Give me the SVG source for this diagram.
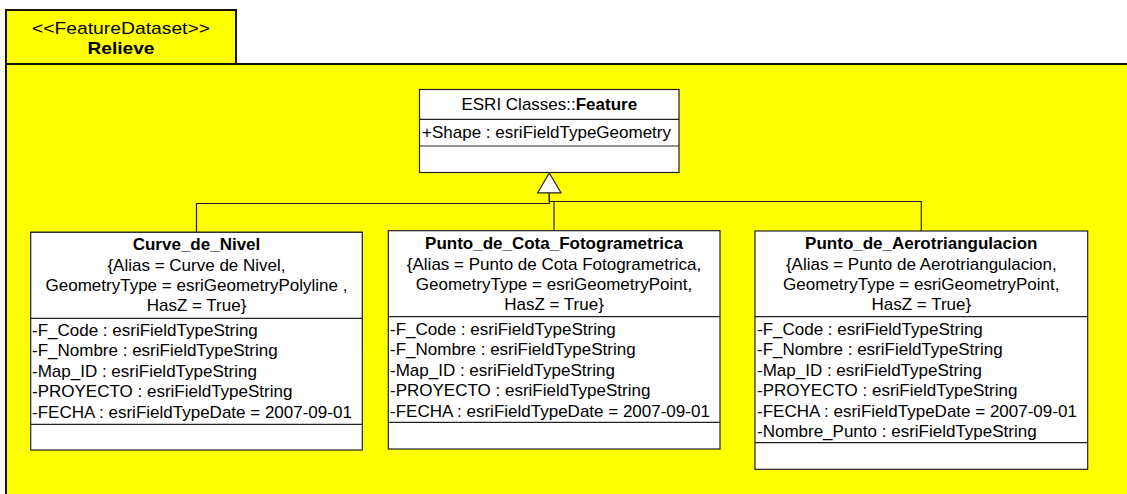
<svg xmlns="http://www.w3.org/2000/svg" width="1127" height="494" viewBox="0 0 1127 494">
  <style>
    text { font-family: "Liberation Sans", Arial, sans-serif; font-size: 17px; fill: #000; }
    .b { font-weight: bold; }
    .c { text-anchor: middle; }
    .box { fill: #fff; stroke: #222; stroke-width: 1.2; }
    .sep { stroke: #222; stroke-width: 1.2; fill: none; }
    .pkg { fill: #ffff00; stroke: #111; stroke-width: 2; }
    .gen { fill: none; stroke: #222; stroke-width: 1.2; }
    .tri { fill: #fff; stroke: #222; stroke-width: 1.2; }
  </style>

  <!-- package: Relieve -->
  <g id="package">
    <rect class="pkg" x="6" y="64" width="1130" height="440"/>
    <rect class="pkg" x="6" y="10" width="230" height="54"/>
    <text class="c" x="121" y="34" textLength="178" lengthAdjust="spacingAndGlyphs">&lt;&lt;FeatureDataset&gt;&gt;</text>
    <text class="c b" x="121" y="54" textLength="67" lengthAdjust="spacingAndGlyphs">Relieve</text>
  </g>

  <!-- generalization connectors -->
  <g id="connectors">
    <path class="gen" d="M549.3,193 V203.5 H196.5 V232"/>
    <path class="gen" d="M549.3,193 V201.5 H921.3 V231"/>
    <path class="gen" d="M554,201.5 V230.7"/>
    <polygon class="tri" points="549.3,173 561,192.8 537.6,192.8"/>
  </g>

  <!-- ESRI Classes::Feature -->
  <g id="feature">
    <rect class="box" x="419.5" y="89.5" width="259.5" height="83"/>
    <line class="sep" x1="419.5" y1="119.3" x2="679" y2="119.3"/>
    <line class="sep" x1="419.5" y1="146" x2="679" y2="146"/>
    <text class="c" x="549.3" y="110">ESRI Classes::<tspan class="b">Feature</tspan></text>
    <text x="422" y="137.5">+Shape : esriFieldTypeGeometry</text>
  </g>

  <!-- Curve_de_Nivel -->
  <g id="curve-de-nivel">
    <rect class="box" x="30.7" y="232.3" width="331.6" height="117.7"/>
    <rect class="box" x="30.7" y="232.3" width="331.6" height="217.7"/>
    <line class="sep" x1="30.7" y1="318.3" x2="362.3" y2="318.3"/>
    <line class="sep" x1="30.7" y1="424.3" x2="362.3" y2="424.3"/>
    <text class="c b" x="196.5" y="250">Curve_de_Nivel</text>
    <text class="c" x="196.5" y="271">{Alias = Curve de Nivel,</text>
    <text class="c" x="196.5" y="291">GeometryType = esriGeometryPolyline ,</text>
    <text class="c" x="196.5" y="311">HasZ = True}</text>
    <text x="32" y="336">-F_Code : esriFieldTypeString</text>
    <text x="32" y="356.4">-F_Nombre : esriFieldTypeString</text>
    <text x="32" y="376.8">-Map_ID : esriFieldTypeString</text>
    <text x="32" y="397.2">-PROYECTO : esriFieldTypeString</text>
    <text x="32" y="417.6">-FECHA : esriFieldTypeDate = 2007-09-01</text>
  </g>

  <!-- Punto_de_Cota_Fotogrametrica -->
  <g id="punto-de-cota">
    <rect class="box" x="388.3" y="230.7" width="331.7" height="218.3"/>
    <line class="sep" x1="388.3" y1="316.7" x2="720" y2="316.7"/>
    <line class="sep" x1="388.3" y1="422.3" x2="720" y2="422.3"/>
    <text class="c b" x="554" y="248.5">Punto_de_Cota_Fotogrametrica</text>
    <text class="c" x="554" y="269.5">{Alias = Punto de Cota Fotogrametrica,</text>
    <text class="c" x="554" y="289.5">GeometryType = esriGeometryPoint,</text>
    <text class="c" x="554" y="309.5">HasZ = True}</text>
    <text x="390" y="335">-F_Code : esriFieldTypeString</text>
    <text x="390" y="355.4">-F_Nombre : esriFieldTypeString</text>
    <text x="390" y="375.8">-Map_ID : esriFieldTypeString</text>
    <text x="390" y="396.2">-PROYECTO : esriFieldTypeString</text>
    <text x="390" y="416.6">-FECHA : esriFieldTypeDate = 2007-09-01</text>
  </g>

  <!-- Punto_de_Aerotriangulacion -->
  <g id="punto-de-aerotriangulacion">
    <rect class="box" x="755" y="231" width="332.7" height="238.3"/>
    <line class="sep" x1="755" y1="316.7" x2="1087.7" y2="316.7"/>
    <line class="sep" x1="755" y1="442.7" x2="1087.7" y2="442.7"/>
    <text class="c b" x="921.3" y="248.5">Punto_de_Aerotriangulacion</text>
    <text class="c" x="921.3" y="269.5">{Alias = Punto de Aerotriangulacion,</text>
    <text class="c" x="921.3" y="289.5">GeometryType = esriGeometryPoint,</text>
    <text class="c" x="921.3" y="309.5">HasZ = True}</text>
    <text x="757" y="335">-F_Code : esriFieldTypeString</text>
    <text x="757" y="355.4">-F_Nombre : esriFieldTypeString</text>
    <text x="757" y="375.8">-Map_ID : esriFieldTypeString</text>
    <text x="757" y="396.2">-PROYECTO : esriFieldTypeString</text>
    <text x="757" y="416.6">-FECHA : esriFieldTypeDate = 2007-09-01</text>
    <text x="757" y="437">-Nombre_Punto : esriFieldTypeString</text>
  </g>
</svg>
